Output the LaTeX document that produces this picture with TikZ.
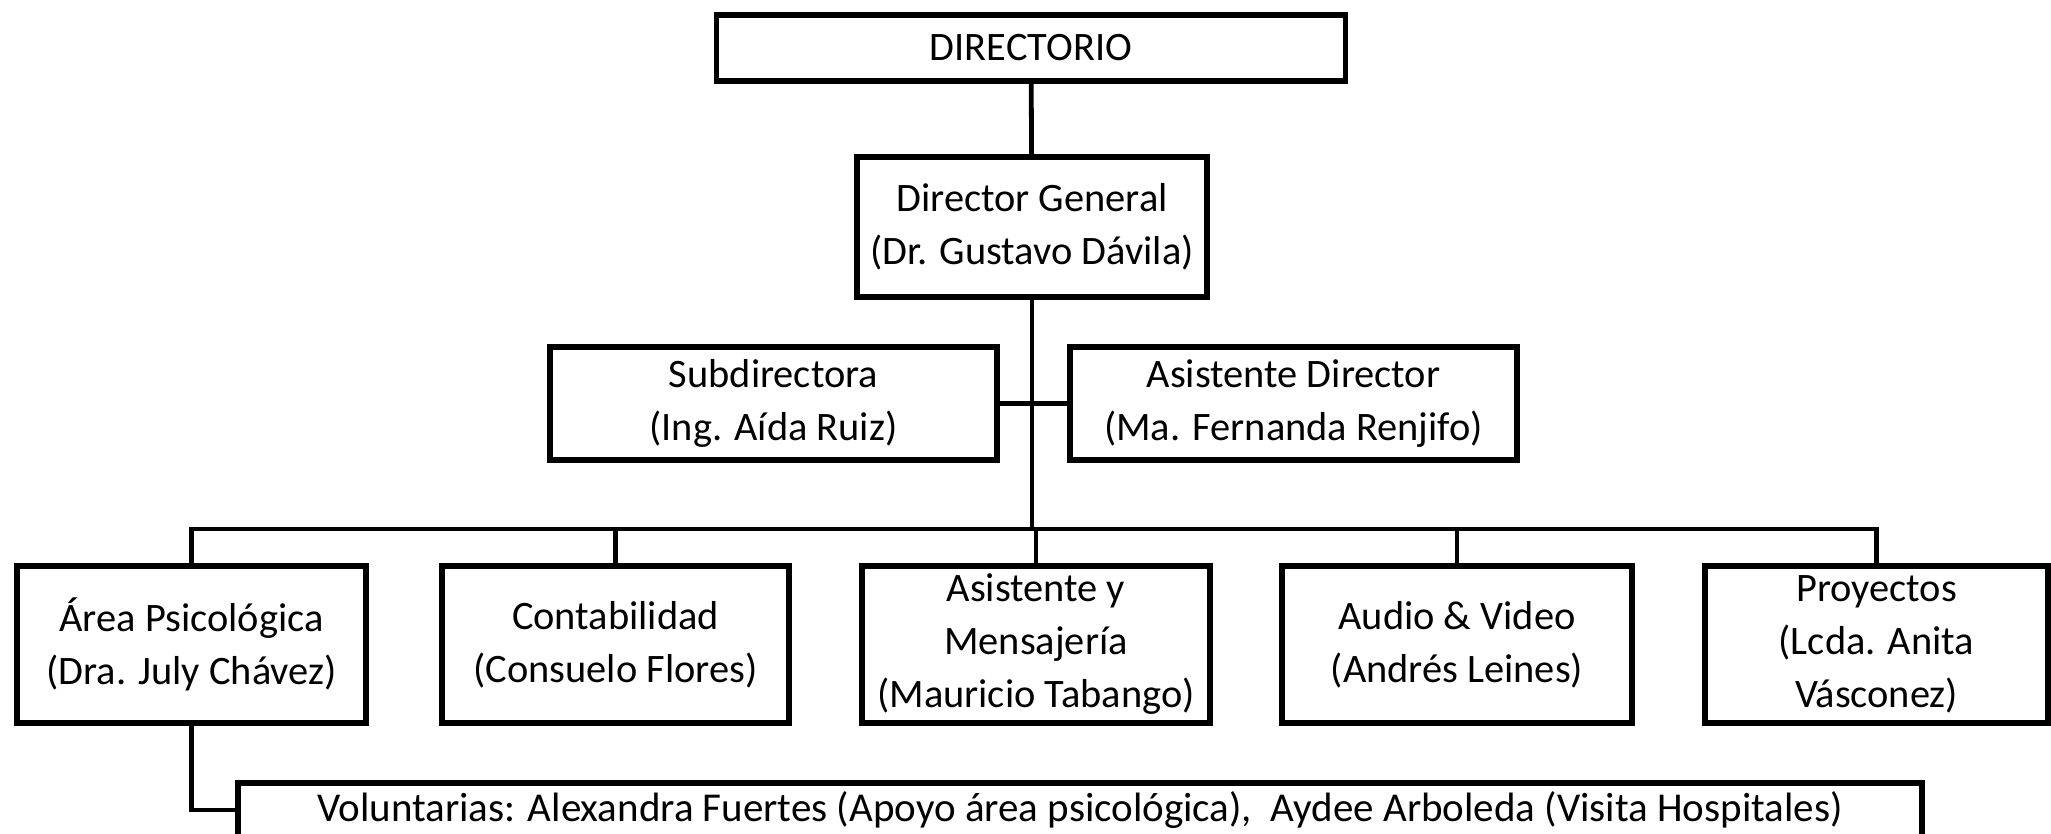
\documentclass[tikz,border=0pt]{standalone}
\usepackage{fontspec}
\setmainfont{Carlito}
\usetikzlibrary{positioning}

\begin{document}
\begin{tikzpicture}[
    x=0.5pt, y=-0.5pt,
    font=\fontsize{20.2}{26.5}\selectfont,
    unit/.style={draw, line width=2.9pt, align=center, inner sep=1pt,
                 fill=white},
    top/.style={unit, minimum width=175pt, minimum height=56.5pt},
    dept/.style={unit, minimum width=174pt, minimum height=78.5pt},
    link/.style={draw, line width=2.4pt},
  ]
  \useasboundingbox (0,0) rectangle (2051,834);
  \clip (0,0) rectangle (2051,834);

  % ============================== Mando ===================================
  \node[unit, minimum width=314.5pt, minimum height=33pt] (dir) at (1031,48)
    {DIRECTORIO};
  \node[unit, minimum width=175pt, minimum height=70pt] (dg) at (1032,227)
    {Director General\\(Dr. Gustavo Dávila)};
  \node[top, minimum width=223.5pt] (sub) at (773.5,403.5)
    {Subdirectora\\(Ing. Aída Ruiz)};
  \node[top, minimum width=223.5pt] (asis) at (1293.5,403.5)
    {Asistente Director\\(Ma. Fernanda Renjifo)};
  \coordinate (bus) at (1032,529);

  % ============================== Areas ===================================
  \node[dept, minimum width=174.5pt] (psico) at (191.5,644.5)
    {Área Psicológica\\(Dra. July Chávez)};
  \node[dept, minimum width=173.5pt] (conta) at (615.5,644.5)
    {Contabilidad\\(Consuelo Flores)};
  \node[dept] (mens) at (1036,644.5)
    {Asistente y\\Mensajería\\(Mauricio Tabango)};
  \node[dept, minimum width=175pt] (audio) at (1457,644.5)
    {Audio \& Video\\(Andrés Leines)};
  \node[dept, minimum width=171.5pt] (proy) at (1876.5,644.5)
    {Proyectos\\(Lcda. Anita\\Vásconez)};

  \node[unit, minimum width=842pt, minimum height=27pt, font=\fontsize{20.5}{26.5}\selectfont]
    (volun) at (1080,810)
    {Voluntarias: Alexandra Fuertes (Apoyo área psicológica),\ \ Aydee Arboleda (Visita Hospitales)};

  % ============================== Lines ===================================
  \draw[link] (dir) -- (dg);
  \draw[link] (dg) -- (bus);
  \draw[link] (sub.east) -- (asis.west);
  \draw[link] (psico.north) |- (bus) -| (proy.north);
  \foreach \n in {conta, mens, audio} {
    \draw[link] (\n.north) -- (\n.north |- bus);
  }
  \draw[link] (psico.south) |- (volun.west);
\end{tikzpicture}
\end{document}
